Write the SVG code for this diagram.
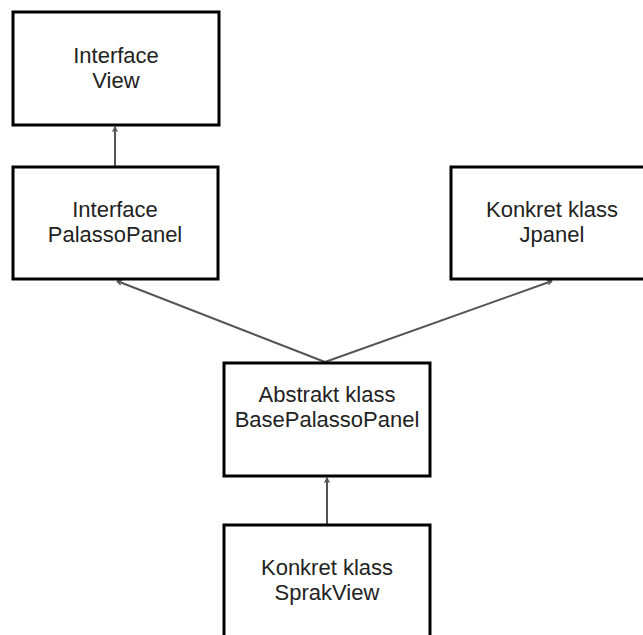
<svg xmlns="http://www.w3.org/2000/svg" width="643" height="635" viewBox="0 0 643 635">
<defs>
<style>
.box{fill:#fff;stroke:#000;stroke-width:3}
.t{font-family:"Liberation Sans",Arial,sans-serif;font-size:22px;fill:#222;text-anchor:middle}
.c{stroke:#555;stroke-width:2;fill:none;marker-end:url(#ah)}
</style>
<marker id="ah" viewBox="0 0 10 10" refX="9" refY="5" markerWidth="6" markerHeight="6" orient="auto" markerUnits="userSpaceOnUse">
<path d="M1,1 L9,5 L1,9" fill="none" stroke="#555" stroke-width="2"/>
</marker>
</defs>
<rect width="643" height="635" fill="#fff"/>
<g id="connectors">
<line class="c" x1="115" y1="166" x2="115" y2="127"/>
<line class="c" x1="325" y1="362" x2="117" y2="281"/>
<line class="c" x1="325" y1="362" x2="552" y2="281"/>
<line class="c" x1="327" y1="525" x2="327" y2="478"/>
</g>
<g id="interfaceView">
<rect class="box" x="13" y="12" width="206" height="113"/>
<text class="t" x="116" y="63">Interface</text>
<text class="t" x="116" y="88">View</text>
</g>
<g id="interfacePalassoPanel">
<rect class="box" x="13" y="167" width="205" height="112"/>
<text class="t" x="115" y="217">Interface</text>
<text class="t" x="115" y="242">PalassoPanel</text>
</g>
<g id="jpanel">
<rect class="box" x="451" y="167" width="205" height="112"/>
<text class="t" x="552" y="217">Konkret klass</text>
<text class="t" x="552" y="242">Jpanel</text>
</g>
<g id="basePalassoPanel">
<rect class="box" x="224" y="363" width="206" height="113"/>
<text class="t" x="327" y="402">Abstrakt klass</text>
<text class="t" x="327" y="427">BasePalassoPanel</text>
</g>
<g id="sprakView">
<rect class="box" x="224" y="525" width="206" height="120"/>
<text class="t" x="327" y="575">Konkret klass</text>
<text class="t" x="327" y="600">SprakView</text>
</g>
</svg>
